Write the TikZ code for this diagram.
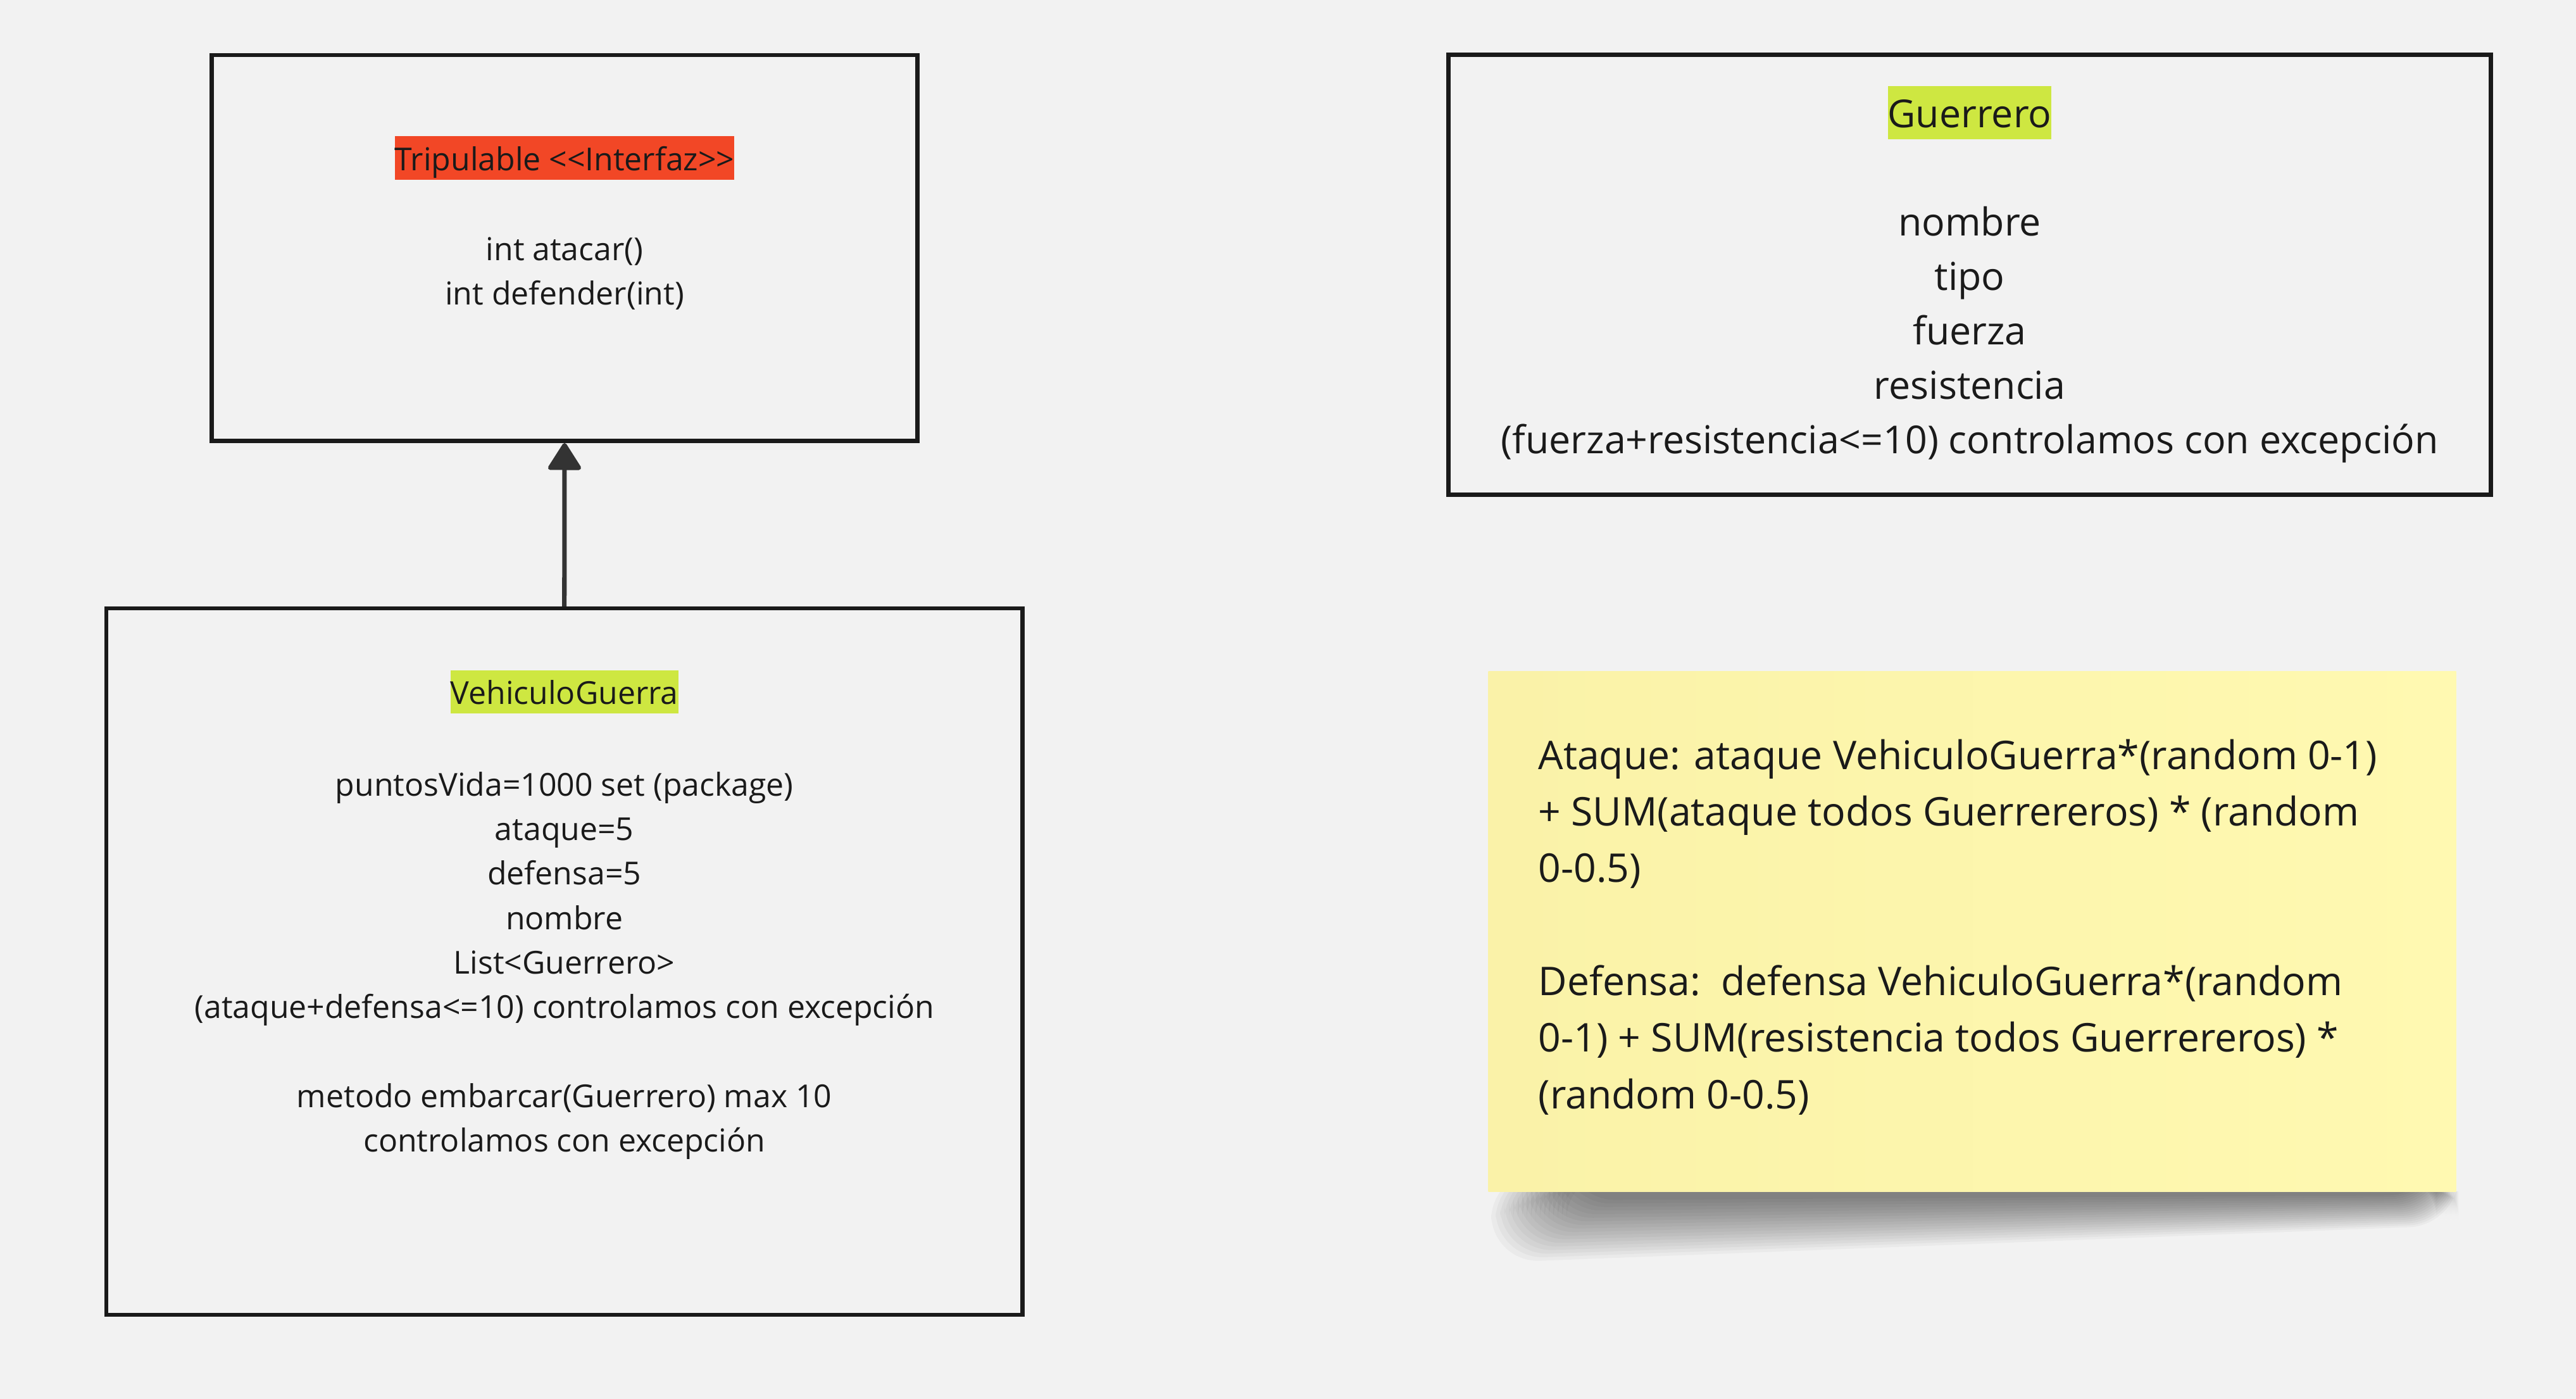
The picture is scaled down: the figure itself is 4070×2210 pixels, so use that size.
\documentclass[tikz,border=0pt]{standalone}
\usepackage{fontspec}
\newfontfamily\osans{Open Sans}
\usetikzlibrary{arrows.meta}
\definecolor{bg}{HTML}{F2F2F2}
\definecolor{ink}{HTML}{1A1A1A}
\definecolor{arrowc}{HTML}{333333}
\definecolor{hlred}{HTML}{F24726}
\definecolor{hllime}{HTML}{CEE741}
\definecolor{sticky}{HTML}{FFF9B1}
\definecolor{stickyl}{HTML}{FAF2A8}
\newcommand{\lnS}{\rule[-0.293em]{0pt}{1.362em}}
\begin{document}
\begin{tikzpicture}[x={(0.01cm,0)}, y={(0,-0.01cm)},
  umlbox/.style={draw=ink, line width=1.85pt, inner sep=0pt},
  hlsmall/.style={inner xsep=0pt, inner ysep=0pt, text height=15.3pt, text depth=4.2pt, text=ink},
  hlmid/.style={inner xsep=0pt, inner ysep=0pt, text height=18.6pt, text depth=5.1pt, text=ink},
  body/.style={align=center, text=ink, inner sep=0pt},
  notetext/.style={align=left, text=ink, inner sep=0pt},
  fsmall/.style={font=\osans\fontsize{14.2pt}{20pt}\selectfont},
  fmid/.style={font=\osans\fontsize{17.3pt}{24.5pt}\selectfont},
  fnote/.style={font=\osans\fontsize{17.75pt}{25.4pt}\selectfont},
  link/.style={draw=arrowc, line width=2pt, -{Triangle[width=16pt,length=13pt,round]}}
]
\fill[bg] (0,0) rectangle (4070,2210);
\useasboundingbox (0,0) rectangle (4070,2210);

% Tripulable
\node[umlbox, minimum width=11.14cm, minimum height=6.095cm] (trip) at (892,391.8) {};
\node[hlsmall, fsmall, fill=hlred] (triptitle) at (892,249.5) {Tripulable <<Interfaz>>};
\node[body, fsmall] (tripbody) at (892,427) {\lnS int atacar()\\ \lnS int defender(int)};

% VehiculoGuerra
\node[umlbox, minimum width=14.47cm, minimum height=11.15cm] (veh) at (891.7,1519) {};
\node[hlsmall, fsmall, fill=hllime] (vehtitle) at (891.7,1093) {VehiculoGuerra};
\node[body, fsmall] (vehbody) at (891.7,1519) {\lnS puntosVida=1000 set (package)\\
 \lnS ataque=5\\ \lnS defensa=5\\ \lnS nombre\\ \lnS List<Guerrero>\\
 \lnS (ataque+defensa<=10) controlamos con excepción\\[20pt]
 \lnS metodo embarcar(Guerrero) max 10\\ \lnS controlamos con excepción};

% Guerrero
\node[umlbox, minimum width=16.46cm, minimum height=6.95cm] (guer) at (3112,434) {};
\node[hlmid, fmid, fill=hllime] (guertitle) at (3112,178) {Guerrero};
\node[body, fmid] (guerbody) at (3112,521) {\lnS nombre\\ \lnS tipo\\ \lnS fuerza\\ \lnS resistencia\\
 \lnS (fuerza+resistencia<=10) controlamos con excepción};

% sticky note shadow
\begin{scope}
  \clip (2300,1882) rectangle (3960,2080);
  \foreach \i in {0,...,17}{
    \fill[black, opacity=0.033, rounded corners=22pt]
      (2475-\i*7,1850) -- (3850+\i*2,1850) -- (3850+\i*2,1888+\i*2.8)
      -- (2475-\i*7,1896+\i*5.8) -- cycle;
  }
\end{scope}

% sticky note
\node[inner sep=0pt, minimum width=15.28cm, minimum height=8.21cm,
      left color=stickyl, right color=sticky] (note) at (3116,1471.5) {};
\node[notetext, fnote, anchor=west] (notebody) at (2430,1459) {\lnS Ataque: ataque VehiculoGuerra*(random 0-1)\\
 \lnS + SUM(ataque todos Guerrereros) * (random\\
 \lnS 0-0.5)\\[25.4pt]
 \lnS Defensa:\ \ defensa VehiculoGuerra*(random\\
 \lnS 0-1) + SUM(resistencia todos Guerrereros) *\\
 \lnS (random 0-0.5)};

% connector
\draw[link] (veh.north) -- (trip.south);
\end{tikzpicture}
\end{document}
